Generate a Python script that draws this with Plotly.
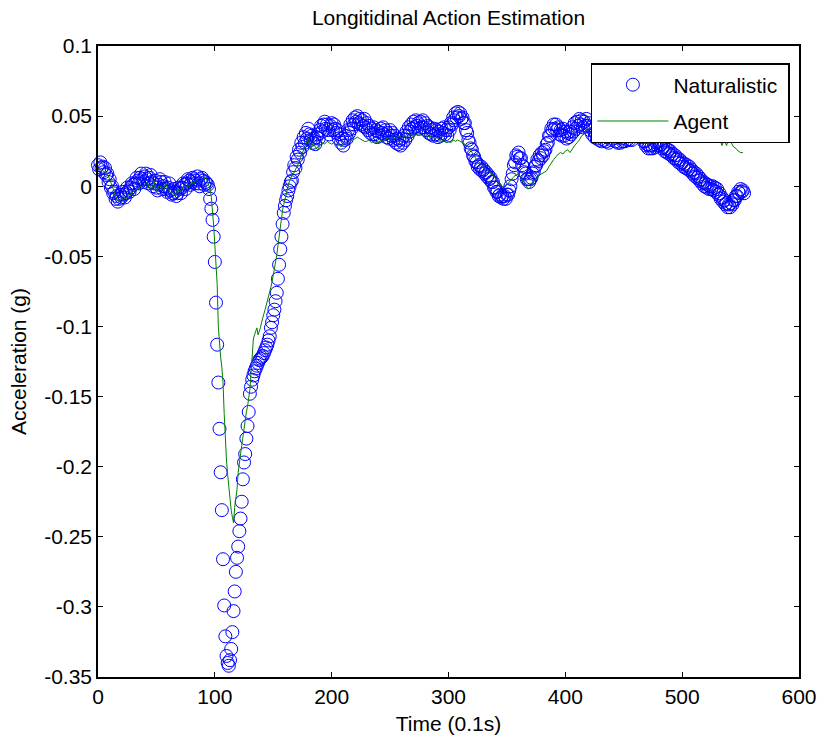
import plotly.graph_objects as go

# ---------------- data ----------------
# Naturalistic samples: one per time step (0.1 s units), t = 0 .. 553
time_nat = list(range(0, 554))

naturalistic_a = [  # t 0 .. 91
    0.015, 0.012, 0.017, 0.013, 0.014, 0.010, 0.013, 0.008, 0.009, 0.003,
    0.005, -0.001, 0.000, -0.005, -0.004, -0.009, -0.007, -0.011, -0.009, -0.006,
    -0.008, -0.004, -0.006, -0.008, -0.005, -0.001, -0.003, -0.004, -0.001, 0.002,
    0.001, -0.002, 0.002, 0.006, 0.004, 0.002, 0.006, 0.009, 0.005, 0.003,
    0.007, 0.009, 0.005, 0.002, 0.006, 0.008, 0.003, 0.000, 0.002, 0.004,
    -0.001, -0.003, 0.001, 0.005, 0.003, -0.002, 0.000, 0.003, -0.002, -0.004,
    -0.001, 0.002, -0.003, -0.006, -0.005, -0.002, -0.004, -0.007, -0.005, -0.001,
    -0.002, -0.005, -0.001, 0.002, 0.001, -0.002, 0.002, 0.005, 0.004, 0.001,
    0.003, 0.006, 0.005, 0.002, 0.004, 0.007, 0.002, 0.000, 0.005, 0.006,
    0.004, 0.001,
]
naturalistic_b = [  # t 92 .. 165
    0.003, 0.002, 0.001, -0.002, -0.009, -0.016, -0.024, -0.036, -0.054, -0.083,
    -0.113, -0.140, -0.173, -0.204, -0.231, -0.266, -0.299, -0.321, -0.335, -0.340,
    -0.342, -0.338, -0.330, -0.318, -0.303, -0.289, -0.275, -0.265, -0.257, -0.246,
    -0.237, -0.225, -0.209, -0.197, -0.191, -0.180, -0.171, -0.161, -0.148, -0.143,
    -0.138, -0.135, -0.132, -0.130, -0.128, -0.126, -0.124, -0.123, -0.122, -0.121,
    -0.119, -0.117, -0.115, -0.113, -0.110, -0.107, -0.101, -0.097, -0.092, -0.088,
    -0.082, -0.076, -0.066, -0.056, -0.045, -0.036, -0.027, -0.019, -0.014, -0.010,
    -0.007, -0.003, 0.000, 0.003,
]
naturalistic_c = [  # t 166 .. 553
    0.004, 0.010, 0.015, 0.013, 0.021, 0.019, 0.026, 0.024, 0.031, 0.028,
    0.035, 0.031, 0.038, 0.034, 0.041, 0.037, 0.033, 0.036, 0.031, 0.034,
    0.030, 0.035, 0.037, 0.034, 0.040, 0.043, 0.039, 0.044, 0.046, 0.041,
    0.044, 0.040, 0.037, 0.043, 0.045, 0.040, 0.044, 0.041, 0.038, 0.040,
    0.034, 0.037, 0.031, 0.034, 0.029, 0.033, 0.036, 0.034, 0.040, 0.038,
    0.044, 0.041, 0.047, 0.044, 0.049, 0.046, 0.050, 0.045, 0.048, 0.044,
    0.047, 0.043, 0.048, 0.042, 0.045, 0.040, 0.043, 0.038, 0.041, 0.037,
    0.042, 0.037, 0.040, 0.035, 0.039, 0.036, 0.041, 0.038, 0.042, 0.037,
    0.040, 0.035, 0.038, 0.034, 0.040, 0.036, 0.038, 0.033, 0.036, 0.031,
    0.034, 0.030, 0.033, 0.029, 0.034, 0.031, 0.036, 0.033, 0.039, 0.036,
    0.042, 0.039, 0.044, 0.041, 0.046, 0.042, 0.047, 0.043, 0.045, 0.041,
    0.046, 0.042, 0.047, 0.042, 0.045, 0.040, 0.043, 0.038, 0.042, 0.037,
    0.040, 0.036, 0.041, 0.037, 0.040, 0.035, 0.039, 0.036, 0.041, 0.038,
    0.042, 0.037, 0.040, 0.036, 0.042, 0.040, 0.045, 0.044, 0.049, 0.047,
    0.052, 0.049, 0.053, 0.050, 0.052, 0.048, 0.049, 0.045, 0.045, 0.040,
    0.038, 0.033, 0.031, 0.027, 0.026, 0.022, 0.021, 0.018, 0.017, 0.014,
    0.015, 0.012, 0.014, 0.011, 0.012, 0.009, 0.010, 0.007, 0.008, 0.005,
    0.006, 0.003, 0.003, -0.001, -0.001, -0.004, -0.004, -0.007, -0.006, -0.008,
    -0.007, -0.009, -0.007, -0.009, -0.006, -0.006, -0.003, 0.000, 0.005, 0.009,
    0.015, 0.017, 0.022, 0.021, 0.024, 0.020, 0.020, 0.015, 0.014, 0.010,
    0.009, 0.005, 0.005, 0.003, 0.005, 0.006, 0.009, 0.010, 0.014, 0.015,
    0.019, 0.018, 0.022, 0.020, 0.024, 0.022, 0.025, 0.026, 0.030, 0.031,
    0.036, 0.036, 0.041, 0.040, 0.044, 0.041, 0.044, 0.040, 0.042, 0.037,
    0.040, 0.036, 0.041, 0.036, 0.039, 0.034, 0.038, 0.035, 0.039, 0.037,
    0.042, 0.039, 0.045, 0.041, 0.046, 0.043, 0.048, 0.044, 0.047, 0.042,
    0.046, 0.043, 0.048, 0.043, 0.045, 0.040, 0.042, 0.037, 0.040, 0.035,
    0.038, 0.034, 0.037, 0.033, 0.036, 0.032, 0.036, 0.033, 0.037, 0.032,
    0.035, 0.031, 0.036, 0.033, 0.038, 0.034, 0.037, 0.032, 0.036, 0.031,
    0.035, 0.031, 0.034, 0.032, 0.036, 0.032, 0.036, 0.033, 0.037, 0.033,
    0.036, 0.033, 0.038, 0.036, 0.041, 0.038, 0.042, 0.037, 0.040, 0.035,
    0.036, 0.032, 0.032, 0.029, 0.030, 0.027, 0.029, 0.027, 0.029, 0.027,
    0.030, 0.028, 0.031, 0.029, 0.032, 0.029, 0.030, 0.027, 0.028, 0.025,
    0.027, 0.024, 0.026, 0.023, 0.025, 0.022, 0.023, 0.020, 0.022, 0.019,
    0.020, 0.017, 0.019, 0.016, 0.017, 0.014, 0.016, 0.013, 0.015, 0.012,
    0.014, 0.011, 0.012, 0.009, 0.010, 0.007, 0.009, 0.006, 0.007, 0.004,
    0.005, 0.002, 0.003, 0.000, 0.002, -0.001, 0.001, -0.002, 0.000, -0.002,
    0.000, -0.003, -0.001, -0.004, -0.002, -0.006, -0.005, -0.009, -0.008, -0.011,
    -0.010, -0.013, -0.012, -0.015, -0.013, -0.015, -0.012, -0.013, -0.010, -0.010,
    -0.007, -0.007, -0.004, -0.005, -0.002, -0.004, -0.003, -0.005,
]

# Agent samples
time_agent_a = list(range(0, 92, 2))
time_agent_b = list(range(92, 166))
time_agent_c = list(range(166, 554, 2))
time_agent = time_agent_a + time_agent_b + time_agent_c

agent_a = [
    0.013, 0.012, 0.011, 0.010, 0.009, 0.005, 0.000, -0.004, -0.009, -0.011,
    -0.009, -0.008, -0.009, -0.006, -0.006, -0.004, -0.003, -0.002, 0.000, -0.001,
    0.001, 0.003, -0.002, -0.002, 0.004, -0.004, 0.000, 0.000, -0.003, 0.002,
    -0.002, -0.005, -0.004, -0.007, -0.002, -0.004, -0.002, 0.001, -0.001, 0.000,
    0.003, 0.002, 0.004, 0.002, 0.004, 0.005,
]
agent_b = [
    0.006, 0.005, 0.003, 0.000, -0.002, -0.008, -0.016, -0.028, -0.042, -0.055,
    -0.070, -0.100, -0.113, -0.122, -0.129, -0.140, -0.162, -0.184, -0.196, -0.206,
    -0.216, -0.225, -0.231, -0.236, -0.240, -0.229, -0.222, -0.216, -0.204, -0.196,
    -0.190, -0.185, -0.179, -0.172, -0.167, -0.161, -0.157, -0.151, -0.145, -0.133,
    -0.118, -0.109, -0.106, -0.103, -0.101, -0.106, -0.104, -0.101, -0.097, -0.093,
    -0.091, -0.088, -0.085, -0.082, -0.079, -0.076, -0.072, -0.068, -0.064, -0.059,
    -0.054, -0.049, -0.042, -0.036, -0.029, -0.023, -0.017, -0.013, -0.009, -0.005,
    -0.002, 0.001, 0.004, 0.006,
]
agent_c = [
    0.008, 0.010, 0.013, 0.017, 0.022, 0.026, 0.030, 0.034, 0.026, 0.031,
    0.028, 0.026, 0.029, 0.031, 0.030, 0.032, 0.031, 0.030, 0.031, 0.029,
    0.030, 0.028, 0.030, 0.031, 0.030, 0.032, 0.033, 0.034, 0.035, 0.034,
    0.033, 0.032, 0.032, 0.033, 0.031, 0.032, 0.031, 0.031, 0.033, 0.032,
    0.034, 0.034, 0.033, 0.035, 0.034, 0.035, 0.036, 0.034, 0.036, 0.035,
    0.036, 0.037, 0.035, 0.037, 0.036, 0.037, 0.036, 0.037, 0.035, 0.036,
    0.035, 0.034, 0.035, 0.033, 0.032, 0.033, 0.031, 0.032, 0.031, 0.033,
    0.032, 0.033, 0.032, 0.031, 0.030, 0.029, 0.027, 0.024, 0.022, 0.019,
    0.017, 0.016, 0.014, 0.012, 0.011, 0.010, 0.008, 0.006, 0.004, 0.002,
    0.000, -0.001, 0.001, 0.003, 0.005, 0.007, 0.008, 0.009, 0.006, 0.003,
    0.000, -0.002, -0.001, 0.002, 0.005, 0.006, 0.008, 0.009, 0.010, 0.011,
    0.014, 0.017, 0.019, 0.021, 0.023, 0.024, 0.023, 0.025, 0.026, 0.024,
    0.027, 0.029, 0.031, 0.033, 0.036, 0.037, 0.039, 0.041, 0.042, 0.041,
    0.042, 0.043, 0.041, 0.042, 0.044, 0.043, 0.042, 0.044, 0.045, 0.043,
    0.042, 0.043, 0.044, 0.043, 0.042, 0.043, 0.044, 0.045, 0.044, 0.043,
    0.042, 0.041, 0.040, 0.041, 0.042, 0.041, 0.040, 0.041, 0.042, 0.041,
    0.040, 0.041, 0.040, 0.039, 0.040, 0.041, 0.040, 0.039, 0.040, 0.041,
    0.040, 0.039, 0.040, 0.041, 0.040, 0.039, 0.040, 0.039, 0.038, 0.039,
    0.038, 0.037, 0.036, 0.035, 0.029, 0.033, 0.029, 0.034, 0.031, 0.028,
    0.027, 0.025, 0.024, 0.024,
]

naturalistic = naturalistic_a + naturalistic_b + naturalistic_c
agent = agent_a + agent_b + agent_c

x_ticks = [0, 100, 200, 300, 400, 500, 600]
y_ticks = [-0.35, -0.3, -0.25, -0.2, -0.15, -0.1, -0.05, 0, 0.05, 0.1]
y_tick_labels = ['-0.35', '-0.3', '-0.25', '-0.2', '-0.15', '-0.1', '-0.05', '0', '0.05', '0.1']

# ---------------- figure ----------------
FONT = 'Liberation Sans, Arial, sans-serif'
FS = 21

fig = go.Figure()
fig.add_trace(go.Scatter(
    x=time_nat, y=naturalistic, mode='markers', name='Naturalistic\u00a0',
    legendgroup='n', cliponaxis=False,
    marker=dict(symbol='circle-open', size=13, color='#0000ff',
                line=dict(width=1, color='#0000ff')),
))
fig.add_trace(go.Scatter(
    x=time_agent, y=agent, mode='lines', name='Agent',
    legendgroup='a',
    line=dict(color='#008000', width=1),
))

axis_common = dict(
    showline=True, linecolor='black', linewidth=1.5, mirror='ticks',
    ticks='inside', ticklen=5, tickwidth=1, tickcolor='black',
    showgrid=False, zeroline=False, automargin=False,
    tickfont=dict(family=FONT, size=FS, color='black'),
)

fig.update_layout(
    width=819, height=741,
    margin=dict(l=98, r=20, t=46, b=64),
    plot_bgcolor='white', paper_bgcolor='white',
    font=dict(family=FONT, size=FS, color='black'),
    title=dict(text='Longitidinal Action Estimation', x=0.5, xref='paper',
               y=1 - 18 / 741, yref='container', yanchor='middle', xanchor='center',
               font=dict(family=FONT, size=FS, color='black')),
    xaxis=dict(range=[0, 600], tickvals=x_ticks, ticktext=[str(v) for v in x_ticks],
               title=dict(text='Time (0.1s)', standoff=9, font=dict(family=FONT, size=FS)),
               **axis_common),
    yaxis=dict(range=[-0.35, 0.1], tickvals=y_ticks, ticktext=y_tick_labels,
               title=dict(text='Acceleration (g)', standoff=12, font=dict(family=FONT, size=FS)),
               **axis_common),
    legend=dict(x=0.987, y=0.973, xanchor='right', yanchor='top',
                bgcolor='white', bordercolor='black', borderwidth=1.5,
                font=dict(family=FONT, size=FS, color='black'),
                itemwidth=71, traceorder='grouped', tracegroupgap=6),
    showlegend=True,
)

fig.write_html('out.html')
